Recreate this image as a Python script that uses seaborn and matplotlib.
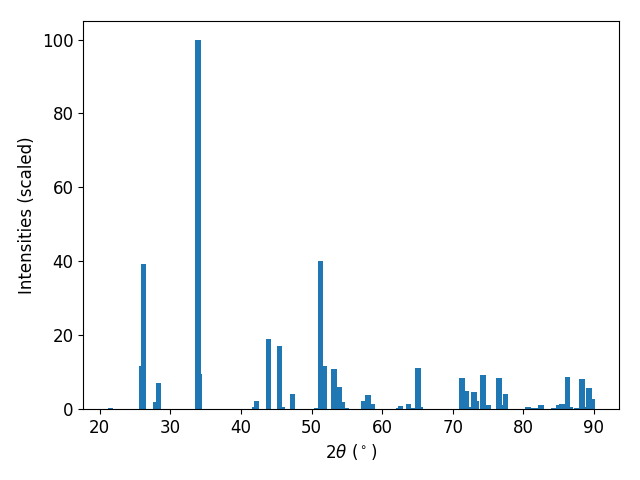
import matplotlib
matplotlib.use("Agg")
import matplotlib.pyplot as plt
import seaborn as sns
import numpy as np
import pandas as pd

# peak positions (2theta, degrees) and scaled intensities
two_theta = [21.5, 25.9, 26.2, 28.0, 28.3, 33.95, 34.15, 41.9, 42.2, 43.9,
             45.45, 45.9, 47.3, 50.8, 51.25, 51.8, 53.2, 53.9, 54.4, 54.95,
             57.45, 58.0, 58.6, 62.4, 62.6, 63.75, 64.4, 65.05, 65.4, 71.3,
             71.9, 72.6, 73.0, 73.35, 74.3, 75.05, 76.55, 77.0, 77.5, 80.7,
             81.4, 81.9, 82.55, 84.35, 85.1, 85.45, 86.25, 86.7, 87.6, 88.35,
             88.8, 89.3, 89.7]
intensity = [0.3, 11.6, 39.3, 1.9, 7.0, 100.0, 9.5, 0.4, 2.2, 19.0,
             17.1, 0.5, 4.1, 0.3, 40.0, 11.7, 10.8, 6.0, 1.9, 0.3,
             2.2, 3.8, 1.4, 0.3, 0.8, 1.4, 0.3, 11.1, 0.5, 8.4,
             4.9, 0.5, 4.6, 2.2, 9.2, 1.1, 8.4, 1.1, 4.0, 0.6,
             0.3, 0.3, 1.1, 0.3, 1.0, 1.3, 8.6, 0.5, 0.3, 8.1,
             0.5, 5.7, 2.7]

df = pd.DataFrame({"two_theta": two_theta, "intensity": intensity})

plt.rcParams["font.size"] = 12

fig, ax = plt.subplots(figsize=(6.4, 4.8), dpi=100)

# seaborn scales width by the smallest gap between positions in native scale
gap = np.diff(np.unique(df["two_theta"])).min()
sns.barplot(data=df, x="two_theta", y="intensity", native_scale=True,
            width=0.8 / gap, color="#1f77b4", saturation=1, linewidth=0,
            errorbar=None, ax=ax)

ax.set_xlabel(r"2$\theta$ ($^\circ$)")
ax.set_ylabel("Intensities (scaled)")
fig.subplots_adjust(left=0.13, right=0.967, top=0.956, bottom=0.148)
plt.savefig("out.png")
